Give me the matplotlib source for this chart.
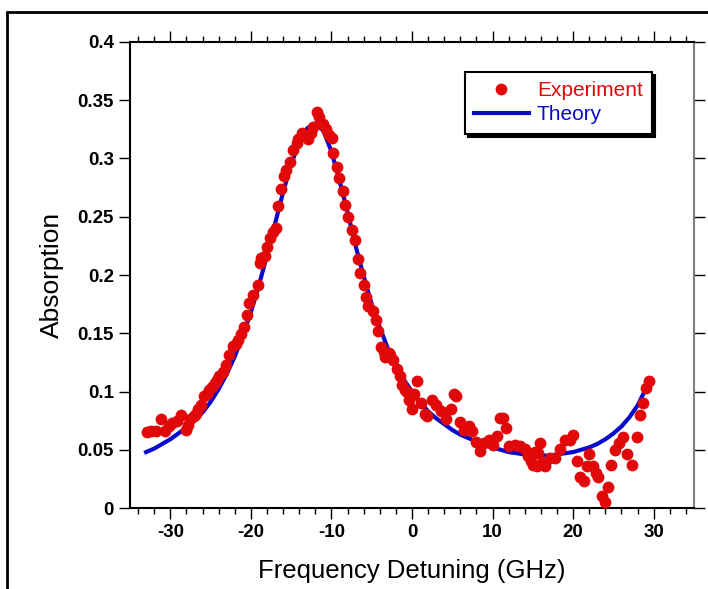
import matplotlib.pyplot as plt
from matplotlib.patches import Rectangle
from matplotlib.ticker import MultipleLocator

# theory curve
theory_x = [-33, -32, -31, -30, -29, -28, -27, -26, -25, -24, -23, -22, -21, -20,
            -19, -18, -17, -16, -15, -14, -13, -12, -11, -10, -9, -8, -7, -6, -5,
            -4, -3, -2, -1, 0, 1, 2, 3, 4, 5, 6, 7, 8, 9, 10, 11, 12, 13, 14, 15,
            16, 17, 18, 19, 20, 21, 22, 23, 24, 25, 26, 27, 28, 29, 29.5]
theory_y = [0.048, 0.051, 0.055, 0.059, 0.064, 0.069, 0.075, 0.082, 0.091, 0.102,
            0.115, 0.130, 0.148, 0.168, 0.191, 0.217, 0.244, 0.271, 0.295, 0.314,
            0.326, 0.330, 0.324, 0.306, 0.281, 0.254, 0.225, 0.199, 0.175, 0.155,
            0.137, 0.123, 0.110, 0.100, 0.091, 0.083, 0.077, 0.072, 0.067, 0.063,
            0.060, 0.057, 0.054, 0.052, 0.050, 0.048, 0.047, 0.046, 0.045, 0.045,
            0.045, 0.046, 0.047, 0.048, 0.050, 0.052, 0.055, 0.059, 0.064, 0.070,
            0.078, 0.088, 0.102, 0.111]

# measured points
exp_x = [-32.9, -32.4, -31.8, -31.2, -30.6, -30.2, -29.75, -29.2, -28.7, -28.1,
         -27.8, -27.5, -27.1, -26.8, -26.5, -26.2, -25.8, -25.5, -25.2, -24.8,
         -24.5, -24.2, -23.9, -23.5, -23.1, -22.7, -22.25, -21.9, -21.6, -21.2,
         -20.8, -20.5, -20.2, -19.7, -19.1, -18.9, -18.7, -18.3, -18.0, -17.6,
         -17.2, -16.9, -16.6, -16.2, -15.9, -15.6, -15.2, -14.75, -14.3, -14.1,
         -13.7, -13.3, -12.9, -12.5, -12.25, -11.8, -11.5, -11.1, -10.7, -10.25,
         -9.96, -9.75, -9.3, -9.0, -8.6, -8.3, -7.9, -7.5, -7.1, -6.75,
         -6.4, -6.0, -5.7, -5.4, -4.8, -4.5, -4.2, -3.8, -3.5, -3.4,
         -2.9, -2.7, -2.3, -1.9, -1.5, -1.2, -0.9, -0.6, -0.4, 0.04,
         0.04, 0.25, 0.67, 1.1, 1.6, 1.9, 2.5, 3.0, 3.6, 4.2,
         4.8, 5.2, 5.5, 6.0, 6.5, 7.1, 7.5, 8.0, 8.5, 9.0,
         9.6, 10.1, 10.6, 10.9, 11.3, 11.7, 12.1, 12.75, 13.4, 14.0,
         14.4, 14.8, 15.0, 15.3, 15.5, 15.7, 15.9, 16.1, 16.5, 17.1,
         17.75, 18.4, 19.0, 19.6, 20.0, 20.5, 20.9, 21.3, 21.7, 22.0,
         22.5, 22.8, 23.1, 23.6, 24.0, 24.3, 24.75, 25.25, 25.7, 26.25,
         26.7, 27.3, 27.9, 28.25, 28.7, 29.0, 29.4]
exp_y = [0.065, 0.066, 0.066, 0.076, 0.066, 0.070, 0.073, 0.075, 0.080, 0.067,
         0.071, 0.076, 0.079, 0.081, 0.085, 0.088, 0.096, 0.098, 0.101, 0.104,
         0.107, 0.110, 0.113, 0.117, 0.123, 0.131, 0.139, 0.141, 0.144, 0.149,
         0.155, 0.166, 0.176, 0.183, 0.191, 0.210, 0.215, 0.216, 0.224, 0.232,
         0.237, 0.240, 0.259, 0.274, 0.285, 0.290, 0.297, 0.307, 0.313, 0.317,
         0.322, 0.320, 0.317, 0.322, 0.327, 0.340, 0.336, 0.330, 0.325, 0.320,
         0.318, 0.305, 0.293, 0.283, 0.272, 0.260, 0.250, 0.239, 0.230, 0.214,
         0.202, 0.191, 0.181, 0.173, 0.169, 0.161, 0.152, 0.138, 0.134, 0.130,
         0.133, 0.131, 0.127, 0.119, 0.113, 0.106, 0.101, 0.100, 0.093, 0.085,
         0.097, 0.098, 0.109, 0.090, 0.081, 0.079, 0.093, 0.088, 0.083, 0.076,
         0.085, 0.098, 0.096, 0.074, 0.067, 0.070, 0.066, 0.057, 0.049, 0.056,
         0.058, 0.054, 0.062, 0.077, 0.077, 0.069, 0.053, 0.054, 0.053, 0.051,
         0.045, 0.040, 0.037, 0.048, 0.036, 0.047, 0.056, 0.039, 0.036, 0.043,
         0.043, 0.051, 0.058, 0.058, 0.063, 0.040, 0.027, 0.023, 0.036, 0.046,
         0.036, 0.030, 0.027, 0.010, 0.005, 0.018, 0.037, 0.050, 0.056, 0.061,
         0.046, 0.037, 0.061, 0.080, 0.090, 0.103, 0.109]

x_ticks = [-30, -20, -10, 0, 10, 20, 30]
y_ticks = [0, 0.05, 0.1, 0.15, 0.2, 0.25, 0.3, 0.35, 0.4]
y_ticklabels = ['0', '0.05', '0.1', '0.15', '0.2', '0.25', '0.3', '0.35', '0.4']

plt.rcParams['font.family'] = ['Liberation Sans', 'DejaVu Sans']
plt.rcParams['axes.unicode_minus'] = False

fig = plt.figure(figsize=(7.08, 5.89), dpi=100)
ax = fig.add_axes([0.1836, 0.1375, 0.7966, 0.7912])

red = '#e00808'
blue = '#0a0acc'
ax.plot(theory_x, theory_y, color=blue, lw=3, label='Theory', zorder=2)
ax.plot(exp_x, exp_y, 'o', color=red, ms=8.5, mec='none', label='Experiment', zorder=3)

ax.set_xlim(-35, 35)
ax.set_ylim(0, 0.4)
ax.set_xticks(x_ticks)
ax.set_yticks(y_ticks)
ax.set_yticklabels(y_ticklabels)
ax.xaxis.set_minor_locator(MultipleLocator(2))
ax.tick_params(axis='both', which='major', direction='out', length=8, width=1,
               labelsize=13.5, top=True, right=True)
ax.tick_params(axis='x', which='minor', direction='out', length=4, width=1, top=True)
for lab in ax.get_xticklabels() + ax.get_yticklabels():
    lab.set_fontweight('bold')

for s in ['left', 'bottom', 'top']:
    ax.spines[s].set_linewidth(1.5)
ax.spines['right'].set_color('#808080')
ax.spines['right'].set_linewidth(1.5)

ax.set_xlabel('Frequency Detuning (GHz)', fontsize=18.5, labelpad=13)
ax.set_ylabel('Absorption', fontsize=19, labelpad=10)

leg = ax.legend(handles=ax.lines[::-1], loc='upper left', bbox_to_anchor=(0.594, 0.936),
                borderaxespad=0, frameon=True, fancybox=False, numpoints=1,
                handlelength=2.6, fontsize=15, labelcolor='linecolor', borderpad=0.45,
                labelspacing=0.25, handletextpad=0.4,
                shadow={'color': 'black', 'alpha': 1.0})
leg.get_frame().set_edgecolor('black')
leg.get_frame().set_linewidth(1.5)

# outer frame around the figure
fig.add_artist(Rectangle((0.0099, -0.1), 1.5, 1.0796, transform=fig.transFigure,
                         fill=False, edgecolor='black', lw=2))

fig.savefig('out.png', dpi=100)
